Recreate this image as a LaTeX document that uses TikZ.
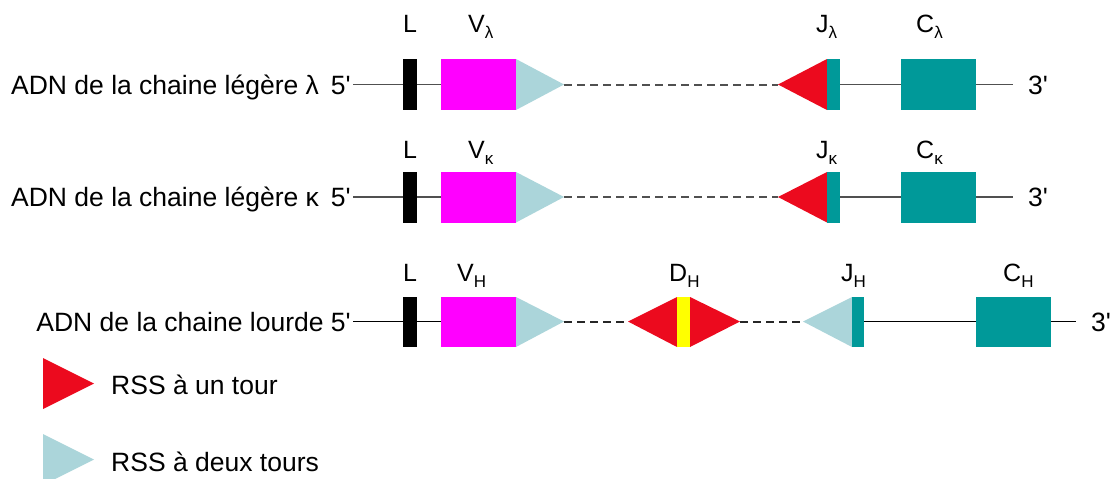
\documentclass[tikz,border=0pt]{standalone}
\usepackage{fontspec}
\setmainfont{Liberation Sans}[Ligatures=TeXOff]
\definecolor{vmag}{HTML}{FF00FF}
\definecolor{rssblue}{HTML}{ABD5DA}
\definecolor{teal}{HTML}{009999}
\definecolor{rssred}{HTML}{EC0A1E}
\definecolor{dyel}{HTML}{FFFF00}
\definecolor{lgray}{HTML}{505050}
\newcommand{\lsub}[1]{\raisebox{-6pt}{\fontsize{17}{17}\selectfont #1}}
\begin{document}
\begin{tikzpicture}[x=1pt,y=-1pt,
  txt/.style={inner sep=0pt,font=\fontsize{26.5}{30}\selectfont},
  lab/.style={inner sep=0pt,font=\fontsize{25}{30}\selectfont,anchor=base west},
  seg/.style={line width=1.8pt},
  dseg/.style={line width=2pt,dash pattern=on 8pt off 5pt},
  blk/.style={fill=black},
  vfill/.style={fill=vmag},
  tfill/.style={fill=teal},
  bfill/.style={fill=rssblue},
  rfill/.style={fill=rssred},
  yfill/.style={fill=dyel}]
\useasboundingbox (0,0) rectangle (1117,479);
\clip (0,0) rectangle (1117,479);
\fill[white] (0,0) rectangle (1117,479);

% ---------- Row 1 (lambda) ----------
\def\ya{59}\def\yb{110}\def\yc{84.5}
\node[txt,anchor=base east] (t1) at (351,94) {ADN de la chaine légère λ\hspace{12pt}5'};
\coordinate (a1) at (353,\yc);
\coordinate (b1) at (441,\yc);
\coordinate (c1) at (564,\yc);
\coordinate (d1) at (778,\yc);
\coordinate (e1) at (840,\yc);
\coordinate (f1) at (901,\yc);
\coordinate (g1) at (976,\yc);
\coordinate (h1) at (1013,\yc);
\draw[seg,lgray] (a1) -- (b1);
\draw[dseg,lgray] (c1) -- (d1);
\draw[seg,lgray] (e1) -- (f1);
\draw[seg,lgray] (g1) -- (h1);
\fill[blk] (403,\ya) rectangle (417,\yb);
\fill[vfill] (441,\ya) rectangle (516,\yb);
\fill[bfill] (516,\ya) -- (516,\yb) -- (c1) -- cycle;
\fill[rfill] (827,\ya) -- (827,\yb) -- (d1) -- cycle;
\fill[tfill] (827,\ya) rectangle (840,\yb);
\fill[tfill] (901,\ya) rectangle (976,\yb);
\node[txt,anchor=base west] (p1) at (1028,94) {3'};
\node[lab] (L1) at (403,32) {L};
\node[lab] (V1) at (468,32) {V\lsub{λ}};
\node[lab] (J1) at (816,32) {J\lsub{λ}};
\node[lab] (C1) at (916,32) {C\lsub{λ}};

% ---------- Row 2 (kappa) ----------
\def\ya{172}\def\yb{222.5}\def\yc{197}
\node[txt,anchor=base east] (t2) at (351,206.5) {ADN de la chaine légère κ\hspace{12pt}5'};
\coordinate (a2) at (353,\yc);
\coordinate (b2) at (441,\yc);
\coordinate (c2) at (564,\yc);
\coordinate (d2) at (778,\yc);
\coordinate (e2) at (840,\yc);
\coordinate (f2) at (901,\yc);
\coordinate (g2) at (976,\yc);
\coordinate (h2) at (1013,\yc);
\draw[seg,lgray] (a2) -- (b2);
\draw[dseg,lgray] (c2) -- (d2);
\draw[seg,lgray] (e2) -- (f2);
\draw[seg,lgray] (g2) -- (h2);
\fill[blk] (403,\ya) rectangle (417,\yb);
\fill[vfill] (441,\ya) rectangle (516,\yb);
\fill[bfill] (516,\ya) -- (516,\yb) -- (c2) -- cycle;
\fill[rfill] (827,\ya) -- (827,\yb) -- (d2) -- cycle;
\fill[tfill] (827,\ya) rectangle (840,\yb);
\fill[tfill] (901,\ya) rectangle (976,\yb);
\node[txt,anchor=base west] (p2) at (1028,206.5) {3'};
\node[lab] (L2) at (403,158.3) {L};
\node[lab] (V2) at (468,158.3) {V\lsub{κ}};
\node[lab] (J2) at (816,158.3) {J\lsub{κ}};
\node[lab] (C2) at (916,158.3) {C\lsub{κ}};

% ---------- Row 3 (heavy) ----------
\def\ya{297}\def\yb{347}\def\yc{321.5}
\node[txt,anchor=base east] (t3) at (351,331) {ADN de la chaine lourde 5'};
\coordinate (a3) at (353,\yc);
\coordinate (b3) at (441,\yc);
\coordinate (c3) at (564,\yc);
\coordinate (d3) at (628,\yc);
\coordinate (e3) at (740,\yc);
\coordinate (f3) at (803,\yc);
\coordinate (g3) at (864,\yc);
\coordinate (h3) at (976,\yc);
\coordinate (i3) at (1051,\yc);
\coordinate (k3) at (1076,\yc);
\draw[seg,black] (a3) -- (b3);
\draw[dseg,black!85] (c3) -- (d3);
\draw[dseg,black!85] (e3) -- (f3);
\draw[seg,black] (g3) -- (h3);
\draw[seg,black] (i3) -- (k3);
\fill[blk] (403,\ya) rectangle (417,\yb);
\fill[vfill] (441,\ya) rectangle (516,\yb);
\fill[bfill] (516,\ya) -- (516,\yb) -- (c3) -- cycle;
\fill[rfill] (677,\ya) -- (677,\yb) -- (d3) -- cycle;
\fill[rfill] (690,\ya) -- (690,\yb) -- (e3) -- cycle;
\fill[yfill] (677,\ya) rectangle (690,\yb);
\fill[bfill] (852,\ya) -- (852,\yb) -- (f3) -- cycle;
\fill[tfill] (852,\ya) rectangle (864,\yb);
\fill[tfill] (976,\ya) rectangle (1051,\yb);
\node[txt,anchor=base west] (p3) at (1091,331) {3'};
\node[lab] (L3) at (403,281.7) {L};
\node[lab] (V3) at (457,281.7) {V\lsub{H}};
\node[lab] (D3) at (669,281.7) {D\lsub{H}};
\node[lab] (J3) at (841,281.7) {J\lsub{H}};
\node[lab] (C3) at (1003,281.7) {C\lsub{H}};

% ---------- Legend ----------
\fill[rfill] (43,358) -- (43,409) -- (94,383.5) -- cycle;
\fill[bfill] (43,434) -- (43,485) -- (94,459.5) -- cycle;
\node[txt,anchor=base west] (lg1) at (111,394.5) {RSS à un tour};
\node[txt,anchor=base west] (lg2) at (111,471) {RSS à deux tours};
\end{tikzpicture}
\end{document}
